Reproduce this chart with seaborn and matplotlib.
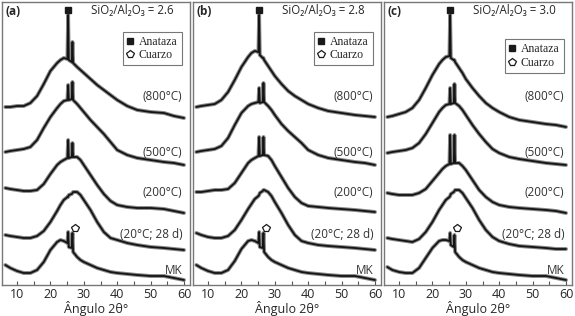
import numpy as np
import pandas as pd
import matplotlib
matplotlib.use('Agg')
import matplotlib.pyplot as plt
from matplotlib.lines import Line2D
import seaborn as sns

# 2theta grid (deg) shared by all patterns
ANGLE = [6.5, 8, 10, 12, 14, 16, 18, 20, 22, 23, 24, 25.1, 25.3, 25.5, 26.4, 26.6, 26.8,
         28, 29, 30, 32, 34, 36, 38, 40, 43, 46, 50, 54, 57, 60]

# intensities (a.u., already stacked with offsets)
a_800 = [178, 178, 179, 179, 182, 189, 201, 214, 222, 225, 227, 226, 270, 225, 223, 243, 222,
         218, 215, 212, 206, 200, 195, 190, 185, 179, 175, 173, 172, 169, 167]
a_500 = [133, 134, 135, 136, 138, 145, 157, 168, 177, 181, 184, 185, 200, 185, 186, 203, 185,
         181, 177, 173, 165, 158, 151, 143, 135, 130, 127, 125, 123, 122, 120]
a_200 = [97, 96, 95, 94, 94, 95, 101, 111, 120, 123, 125, 127, 145, 127, 128, 142, 128,
         128, 125, 120, 110, 100, 91, 84, 80, 78, 77, 77, 76, 74, 72]
a_20 = [50, 49, 48, 47, 47, 49, 54, 63, 74, 80, 85, 88, 88, 90, 91, 92, 93,
        93, 90, 85, 75, 63, 53, 47, 45, 42, 40, 38, 37, 36, 35]
a_mk = [20, 17, 14, 12, 12, 15, 23, 35, 43, 45, 44, 42, 53, 38, 37, 52, 33,
        28, 25, 23, 20, 17, 15, 13, 12, 11, 10, 9, 9, 7, 5]

b_800 = [178, 179, 180, 181, 185, 193, 205, 218, 228, 232, 234, 233, 270, 230, 227, 227, 225,
         219, 214, 209, 201, 194, 189, 185, 181, 177, 174, 172, 170, 169, 168]
b_500 = [133, 134, 135, 136, 139, 147, 160, 172, 179, 181, 182, 183, 197, 182, 183, 202, 183,
         179, 175, 170, 161, 154, 148, 142, 135, 130, 127, 125, 123, 122, 120]
b_200 = [93, 93, 94, 95, 95, 96, 102, 112, 122, 125, 127, 129, 148, 129, 130, 148, 130,
         129, 125, 119, 108, 97, 88, 82, 79, 78, 77, 76, 75, 74, 73]
b_20 = [52, 50, 48, 47, 47, 49, 55, 65, 76, 81, 86, 89, 90, 92, 94, 95, 95,
        93, 89, 83, 72, 60, 50, 44, 42, 40, 39, 38, 37, 36, 35]
b_mk = [20, 17, 14, 12, 12, 15, 24, 36, 44, 45, 44, 42, 53, 38, 37, 52, 33,
        28, 25, 23, 20, 17, 15, 13, 12, 11, 10, 9, 9, 7, 5]

c_800 = [168, 169, 171, 173, 177, 185, 197, 210, 221, 225, 228, 229, 270, 227, 225, 225, 223,
         217, 212, 206, 197, 189, 182, 177, 173, 168, 165, 163, 161, 160, 158]
c_500 = [132, 133, 134, 135, 137, 142, 151, 162, 173, 177, 180, 181, 197, 181, 182, 201, 182,
         179, 175, 170, 160, 151, 143, 136, 132, 128, 126, 124, 122, 121, 120]
c_200 = [92, 91, 90, 90, 90, 92, 96, 104, 112, 116, 119, 121, 150, 121, 122, 150, 122,
         122, 119, 115, 105, 95, 88, 83, 80, 78, 77, 76, 75, 74, 72]
c_20 = [47, 46, 45, 44, 43, 46, 53, 63, 75, 80, 85, 88, 89, 91, 93, 94, 95,
        95, 92, 87, 77, 65, 55, 48, 44, 41, 39, 38, 37, 36, 36]
c_mk = [18, 15, 13, 12, 12, 17, 27, 37, 44, 45, 45, 44, 52, 40, 38, 50, 33,
        28, 25, 23, 20, 17, 15, 13, 12, 11, 10, 9, 9, 7, 5]

PANELS = ['(a)', '(b)', '(c)']
RATIOS = ['2.6', '2.8', '3.0']
CURVE_LABELS = ['(800°C)', '(500°C)', '(200°C)', '(20°C; 28 d)', 'MK']
LABEL_Y = [188, 133, 92, 51, 15]
ANATASE_POS = 25.3
QUARTZ_MARK = (27.4, 57)

series = {
    0: [a_800, a_500, a_200, a_20, a_mk],
    1: [b_800, b_500, b_200, b_20, b_mk],
    2: [c_800, c_500, c_200, c_20, c_mk],
}

sns.set_style('white')
plt.rcParams['font.family'] = ['Open Sans', 'DejaVu Sans']

fig = plt.figure(figsize=(5.75, 3.16), dpi=100)
W, H = 575, 316
lefts = [2, 193, 384]
legend_y = [0.895, 0.895, 0.868]

for i, left in enumerate(lefts):
    ax = fig.add_axes([left / W, 31 / H, 188 / W, 283 / H])
    for j, ys in enumerate(series[i]):
        df = pd.DataFrame({'angle': ANGLE, 'I': ys})
        # grey band + dark core, to look like the noisy trace
        sns.lineplot(data=df, x='angle', y='I', ax=ax, color='#3a3a3a', lw=2.8,
                     alpha=0.6, sort=False, estimator=None)
        sns.lineplot(data=df, x='angle', y='I', ax=ax, color='#141414', lw=1.3,
                     sort=False, estimator=None)
        ax.text(59.5, LABEL_Y[j], CURVE_LABELS[j], ha='right', va='center',
                fontsize=8.5, color='#333333')

    ax.set_xlim(5.5, 61.8)
    ax.set_ylim(0, 283)
    ax.set_xticks(range(10, 61, 10))
    ax.set_xticks(range(10, 61, 5), minor=True)
    ax.set_yticks([])
    ax.tick_params(axis='x', which='both', direction='in', length=3, width=0.8,
                   color='#555555', labelsize=9, pad=2, bottom=True)
    ax.set_xlabel('Ângulo 2θ°', fontsize=9, labelpad=0)
    ax.set_ylabel('')
    for s in ax.spines.values():
        s.set_color('#777777')
        s.set_linewidth(1.0)

    ax.text(0.02, 0.965, PANELS[i], transform=ax.transAxes, ha='left', va='center',
            fontsize=8.5, fontweight='bold')
    ax.text(56.8, 274, 'SiO₂/Al₂O₃ = ' + RATIOS[i], ha='right', va='center',
            fontsize=8.3)
    ax.plot([ANATASE_POS], [275], marker='s', ms=4.5, color='#1a1a1a', ls='none')
    ax.plot([QUARTZ_MARK[0]], [QUARTZ_MARK[1]], marker='p', ms=5.5, mfc='white',
            mec='#1a1a1a', mew=0.9, ls='none')

    handles = [Line2D([], [], marker='s', ms=4.5, color='#1a1a1a', ls='none'),
               Line2D([], [], marker='p', ms=5.5, mfc='white', mec='#1a1a1a', mew=0.9, ls='none')]
    leg = ax.legend(handles, ['Anataza', 'Cuarzo'], loc='upper right',
                    bbox_to_anchor=(0.955, legend_y[i]), frameon=True, fancybox=False,
                    prop={'family': 'Liberation Serif', 'size': 8.5},
                    handlelength=0.6, handletextpad=0.4, borderpad=0.35,
                    labelspacing=0.1, borderaxespad=0)
    leg.get_frame().set_edgecolor('#555555')
    leg.get_frame().set_linewidth(0.8)

fig.savefig('out.png', dpi=100)
